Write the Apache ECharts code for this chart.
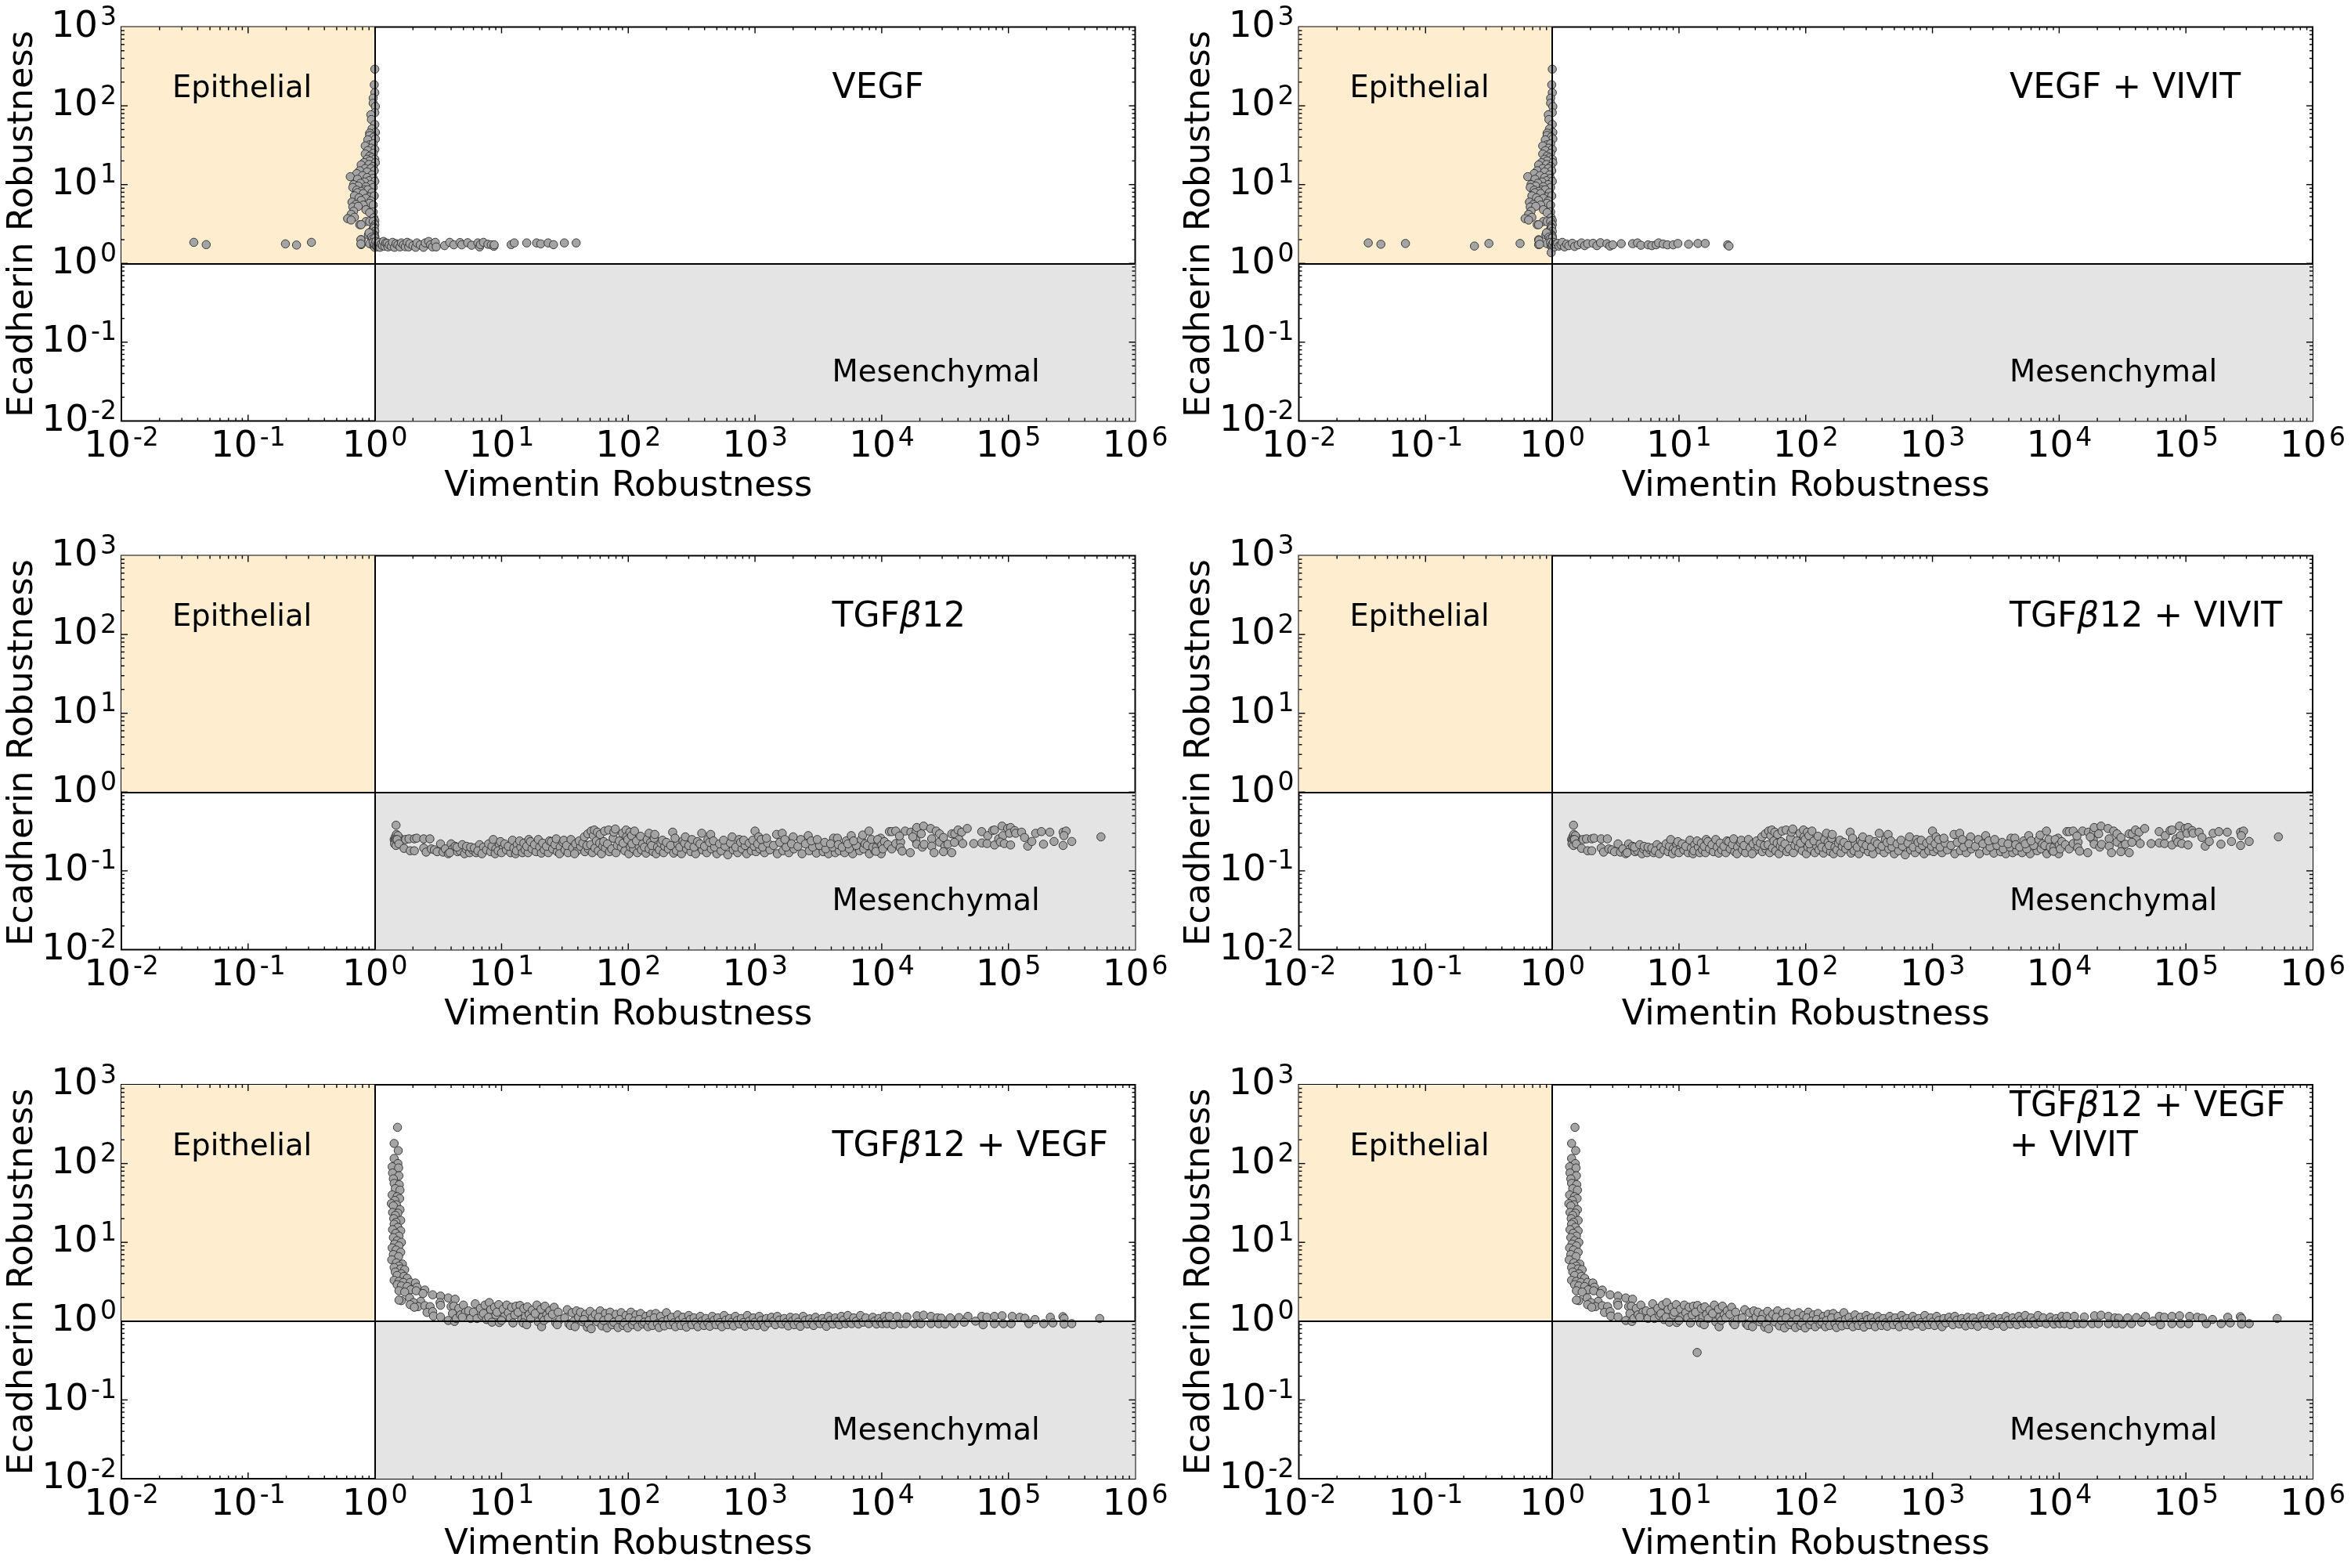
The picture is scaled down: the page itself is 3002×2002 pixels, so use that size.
<!DOCTYPE html>
<html><head><meta charset="utf-8">
<style>html,body{margin:0;padding:0;background:#fff}#c{width:3002px;height:2002px}</style>
<script src="https://cdn.jsdelivr.net/npm/echarts@6/dist/echarts.min.js"></script>
</head><body><div id="c"></div>
<script>
// ---------- data ----------
const xTickExponents = [-2,-1,0,1,2,3,4,5,6];
const yTickExponents = [-2,-1,0,1,2,3];
const minorMantissas = [2,3,4,5,6,7,8,9];
const titles = ['VEGF','VEGF + VIVIT','TGF{b|β}12','TGF{b|β}12 + VIVIT','TGF{b|β}12 + VEGF','TGF{b|β}12 + VEGF\n+ VIVIT'];
const epithelialAt = [0.0252,162];
const mesenchymalAt = [4060,0.0395];
const titleAt = [4060,162];
const twoLineTitleAt = [4060,292];

const vegfColumn = [[1,292],[.99,185],[1,147],[.97,125],[.97,108],[1.01,98],[1,82],[.93,77],[.94,67],[1,58],[.95,51],[1.01,46],[.91,45],[.91,42],[.98,40],[1.01,38],[.88,37],[.91,32],[.97,33],[.84,31],[.94,29],[1,28],[.88,27],[.84,24.5],[.97,25],[.91,23],[.95,22],[.87,21],[1,21],[.91,20],[1.01,19],[.82,19],[.78,17.8],[.9,18],[.97,17],[.84,16],[.93,16],[.99,15],[.76,15],[.87,14.5],[.72,13.8],[.95,13.3],[.8,13],[.64,12.6],[.87,12.3],[.97,12],[.73,11.7],[.9,11.2],[1,11],[.83,10.8],[.77,10.4],[.68,10],[.93,10],[.74,9.6],[.67,9.2],[.97,9.2],[.85,9.4],[.83,8.6],[.88,8.6],[.72,8.5],[.78,8.2],[.73,7.9],[.95,7.9],[.81,7.7],[.69,7.2],[.91,7],[.99,7.2],[.75,6.8],[.85,6.7],[.78,6.3],[.93,6.2],[.66,6],[.91,5.8],[.71,5.6],[.81,5.5],[.97,5.5],[.67,5.2],[.74,5.3],[.85,4.8],[.68,4.6],[.97,4.5],[.91,4.4],[.65,4.2],[.69,3.85],[.61,3.7],[.65,3.55],[.98,3.8],[1,3.5],[.85,3.4],[.91,3.4],[.97,3.4],[.76,3.1],[.78,3.1],[1,3.1],[.98,2.9],[.95,2.6],[.97,2.7],[.99,2.8],[1,2.55],[.89,2.3],[.92,2.35],[.96,2.4],[.97,2.2],[.99,2.3],[1,2.2],[.9,2.45],[.94,2.15],[.99,2],[.96,2.05],[1,1.95],[1,2.1],[.78,2],[.78,1.73],[.91,1.78],[.98,1.66],[.99,1.75],[1,1.85],[1,1.6],[.97,1.85],[1.01,1.7],[1,1.75]];
const vegfBand = [[.0373,1.85],[.0467,1.73],[.197,1.77],[.241,1.71],[.316,1.85],[.776,2],[.776,1.77],[1.02,1.9],[1.03,1.65],[1.05,1.62],[1.06,1.8],[1.08,1.85],[1.1,1.6],[1.12,1.75],[1.15,1.68],[1.17,1.9],[1.2,1.65],[1.22,1.82],[1.25,1.8],[1.27,1.62],[1.3,1.72],[1.35,1.65],[1.38,1.85],[1.43,1.6],[1.47,1.78],[1.52,1.72],[1.58,1.62],[1.62,1.82],[1.68,1.72],[1.74,1.63],[1.8,1.85],[1.85,1.62],[1.89,1.78],[2,1.68],[2.1,1.6],[2.15,1.82],[2.28,1.72],[2.42,1.6],[2.5,1.82],[2.66,1.9],[2.75,1.72],[2.85,1.62],[3,1.85],[3.05,1.62],[3.55,1.68],[3.9,1.85],[4.2,1.72],[4.7,1.84],[4.85,1.72],[5.4,1.83],[5.8,1.7],[6.5,1.82],[6.7,1.62],[6.8,1.73],[7.2,1.85],[7.8,1.75],[8.3,1.72],[8.7,1.65],[8.75,1.72],[11.9,1.73],[12.6,1.82],[15.8,1.82],[18.9,1.82],[20.4,1.77],[23.3,1.82],[25.7,1.73],[31.3,1.82],[38.8,1.82]];
const vivitBand = [[.0353,1.82],[.0444,1.75],[.0694,1.79],[.243,1.66],[.316,1.79],[.557,1.79],[.784,1.96],[.795,1.75],[.98,1.37],[1.02,1.85],[1.04,1.62],[1.06,1.75],[1.1,1.8],[1.13,1.66],[1.17,1.72],[1.2,1.85],[1.25,1.62],[1.3,1.76],[1.35,1.68],[1.44,1.8],[1.5,1.64],[1.6,1.72],[1.7,1.82],[1.8,1.68],[1.9,1.78],[2.1,1.8],[2.25,1.68],[2.4,1.83],[2.7,1.78],[2.85,1.66],[3,1.72],[3.5,1.78],[4.3,1.78],[4.7,1.82],[5,1.7],[5.7,1.72],[6.1,1.68],[6.6,1.72],[6.9,1.82],[7.5,1.76],[8.1,1.72],[9,1.72],[9.8,1.79],[11.9,1.75],[14.1,1.79],[16.1,1.79],[24.2,1.72],[24.8,1.66]];

const tgfPoints = [[1.47,.38],[1.42,.25],[1.45,.27],[1.46,.23],[1.48,.26],[1.5,.24],[1.5,.27],[1.52,.22],[1.44,.24],[1.43,.22],[1.47,.21],[1.55,.25],[1.6,.255],[1.48,.29],[1.52,.28],[1.47,.25],[1.5,.25],[1.55,.22],[1.7,.193],[1.75,.25],[1.86,.255],[1.9,.18],[2.05,.255],[2.05,.18],[2.14,.26],[2.43,.255],[2.72,.255],[2.43,.195],[2.54,.173],[2.79,.19],[2.95,.185],[3.1,.175],[3.3,.22],[3.45,.173],[3.6,.19],[3.8,.165],
[4,.22],[4.1,.19],[3.9,.17],[4.3,.205],[4.5,.175],[4.7,.18],[4.45,.2],[5.1,.165],[5.25,.19],[4.9,.215],[5.6,.17],[5.3,.205],[5.9,.185],[5.7,.2],[6.3,.17],[6.1,.195],[6.7,.215],[6.5,.18],[7.2,.2],[7,.165],[7.6,.185],[7.9,.22],[8.2,.175],[8.4,.205],[8.6,.25],[9,.19],[8.9,.165],[9.6,.215],[9.4,.18],[10.3,.2],[10,.17],[9.8,.235],[10.9,.185],[10.6,.22],[11.8,.17],[11.3,.205],[12.5,.195],[12.2,.245],[12.9,.165],[13.3,.215],[13.1,.18],[14.2,.2],[13.9,.24],[14.6,.17],[15.3,.185],[15,.225],[16.2,.17],[15.8,.205],[16.4,.25],[17.4,.19],[16.9,.235],[18.7,.175],[18.2,.215],[20,.2],[19.5,.25],[20.6,.168],[21.7,.185],[21.1,.225],[23.4,.17],[22.6,.205],[23.9,.24],[25.3,.19],[24.7,.235],[27.5,.175],[26.4,.215],[27,.255],[29,.2],[28.7,.165],[31.6,.185],[30.5,.23],[31,.245],[33.5,.17],[32.6,.21],[36.4,.195],[35.3,.25],[39.5,.18],[38.4,.22],[37.7,.165],[42,.205],[41,.24],[45.5,.175],[43.8,.225],[45,.27],[48.5,.19],[47.2,.21],[48,.295],[52,.17],[50.5,.215],[51,.32],[53,.28],[54.6,.195],[56,.24],[54,.33],[58,.18],[59.5,.225],[57,.31],[61.5,.165],[63,.205],[60,.29],[66,.195],[64,.235],[65,.32],[71,.175],[68.5,.22],[70,.33],[74,.19],[76,.26],[77,.31],[80,.17],[82,.21],[79,.34],[88,.2],[85,.24],[90,.3],[94,.18],[91,.225],[96,.33],[97,.27],[101,.165],[104,.2],[99,.25],[103,.31],[110,.19],[107,.22],[106,.28],[112,.32],
[118,.17],[122,.205],[116,.24],[127,.185],[130,.22],[125,.275],[138,.168],[134,.2],[141,.25],[146,.19],[150,.23],[146,.3],[157,.175],[153,.21],[160,.26],[166,.165],[170,.2],[162,.29],[176,.185],[181,.225],[190,.17],[194,.205],[186,.245],[207,.19],[200,.23],[228,.168],[216,.21],[224,.31],[240,.18],[246,.22],[234,.26],[263,.165],[255,.2],[270,.24],[288,.19],[278,.225],[282,.27],[312,.175],[300,.21],[318,.25],[340,.165],[330,.2],[352,.235],[384,.185],[368,.22],[380,.3],[416,.17],[400,.205],[425,.25],[452,.19],[438,.23],[447,.29],[500,.165],[480,.2],[470,.24],[540,.18],[525,.22],[610,.16],[580,.205],[565,.245],[672,.185],[640,.225],[660,.27],[730,.17],[705,.2],[750,.25],[790,.19],[770,.23],[860,.165],[835,.21],[815,.245],[935,.18],[900,.225],[1020,.175],[985,.205],[1000,.32],[960,.245],[1090,.19],[1070,.27],[1050,.22],[1190,.17],[1150,.2],[1120,.25],[1310,.185],[1260,.225],[1230,.26],[1500,.165],[1400,.21],[1480,.29],[1660,.18],[1570,.23],[1640,.3],[1850,.17],[1760,.2],[1720,.25],[2030,.19],[2000,.27],[1940,.22],[2350,.165],[2180,.205],[2300,.25],[2680,.18],[2500,.22],[2630,.28],[3050,.168],[2850,.2],[2780,.24],[3450,.175],[3230,.21],[3100,.25],[3800,.165],[3620,.19],[3550,.23],[4300,.17],[4100,.2],[4170,.26],[3950,.22],[4620,.18],[4470,.26],[4540,.215],[5100,.17],[4880,.2],[5250,.24],[5900,.165],[5550,.19],[5750,.28],[5400,.22],[6700,.18],[6300,.21],[6000,.24],[6900,.25],[7200,.19],[7080,.285],[7400,.22],[8000,.165],[7940,.32],[7700,.21],[8800,.18],[8300,.25],[8500,.2],[9900,.165],[9800,.26],[9100,.2],[9500,.235],
[9300,.25],[9000,.177],[10000,.213],[10500,.235],[10200,.19],[11200,.215],[12000,.19],[12900,.222],[14100,.232],[14000,.197],[14500,.178],[16800,.17],[11500,.315],[12000,.315],[12900,.32],[15300,.32],[13800,.277],[17000,.31],[18700,.315],[18900,.355],[21400,.37],[24300,.345],[26900,.32],[28600,.295],[20500,.295],[18600,.245],[17600,.27],[18900,.218],[20900,.2],[21600,.217],[24800,.255],[24800,.206],[25900,.17],[28600,.232],[30700,.265],[31500,.206],[30700,.175],[33300,.218],[35700,.295],[37700,.295],[40000,.33],[42700,.31],[40700,.25],[37500,.23],[35700,.17],[43600,.222],[47300,.345],[53200,.222],[61500,.315],[61700,.226],[67800,.222],[68700,.28],[75000,.325],[77600,.33],[77600,.213],[83700,.255],[89000,.37],[90500,.28],[86300,.232],[92700,.222],[98600,.345],[104000,.355],[104000,.213],[102000,.3],[112000,.325],[114000,.3],[127000,.31],[134000,.265],[142000,.206],[153000,.236],[164000,.3],[182000,.315],[189000,.218],[212000,.31],[229000,.236],[270000,.31],[285000,.32],[274000,.28],[270000,.21],[316000,.236],[537000,.27]];

const comboPoints = [[1.51,288],[1.42,180],[1.53,146],[1.42,116],[1.52,100],[1.37,91],[1.54,88],[1.38,76],[1.55,70],[1.4,64],[1.42,56],[1.56,54],[1.45,48],[1.58,46],[1.37,40],[1.5,38],[1.57,36],[1.44,34],[1.35,31],[1.48,30],[1.4,29],[1.58,26],[1.38,24],[1.52,23.5],[1.45,22],[1.41,20],[1.6,19],[1.47,18],[1.42,17],[1.52,15.5],[1.38,14.5],[1.6,14],[1.46,13],[1.55,12],[1.4,11.5],[1.5,10.5],[1.62,10],[1.43,9.5],[1.55,9],[1.37,8.5],[1.47,8],[1.6,7.5],[1.4,7],[1.54,6.6],[1.36,6],[1.48,5.5],[1.65,5.3],[1.55,5],[1.42,4.8],[1.6,4.6],[1.72,4.5],[1.45,4.2],[1.62,4],[1.5,3.8],[1.7,3.7],[1.8,3.5],[1.42,3.3],[1.55,3.2],[1.68,3.1],[1.9,3.1],[2.09,3.05],[1.5,2.9],[1.62,2.8],[1.8,2.75],[2.15,2.7],[1.55,2.43],[1.92,2.5],[2.12,2.43],[2.48,2.48],[2.4,2.24],[1.72,2.34],[2.86,2.16],[3.3,2.08],[3.8,1.97],[4.3,1.9],[1.88,1.97],[1.62,1.82],[1.55,1.85],[2.3,1.78],[2.02,1.72],[1.9,1.62],[2.2,1.53],[2.05,1.5],[2.48,1.57],[2.73,1.53],[3.27,1.72],[3.3,1.59],[2.58,1.29],[2.86,1.32],[2.9,1.16],[3.3,1.13],[3.8,1.02],[4.25,.99],[4,1.53],
[4.2,1.55],[4.1,1.25],[4.4,1.08],[4.6,1.45],[4.75,1.2],[5,1.6],[5.2,1.3],[4.9,1.12],[5.5,1.35],[5.7,1.08],[6.2,1.66],[6,1.3],[6.4,1.08],[6.8,1.45],[7,1.18],[7.4,1.6],[7.2,1.25],[7.6,1.05],[8,1.72],[8.2,1.4],[7.9,1.12],[8.4,.97],[8.8,1.5],[9,1.2],[9.5,1.62],[9.2,1.3],[9.6,.96],[10.3,1.42],[10.6,1.15],[10,1.02],[11,1.6],[11.3,1.28],[12,1.5],[11.7,1.1],[12.3,.95],[13,1.55],[12.7,1.2],[14,1.58],[13.5,1.3],[14.4,1.05],[15,1.45],[15.4,1.12],[14.8,.95],[16,1.52],[16.5,1.22],[15.8,.9],[17.5,1.38],[17,1.08],[19,1.6],[18.4,1.25],[19.5,.98],[20.5,1.42],[21,1.12],[20.7,.85],[22,1.55],[22.7,1.2],[21.6,1.02],[24,1.35],[23.4,1.1],[26,1.5],[25.2,1.22],[26.8,.95],[28,1.3],[28.9,1.05],[27.5,.9],[33,1.4],[31.5,1.1],[34,.92],[36,1.28],[37.2,1],[35,.88],[39,1.35],[40.5,1.12],[38,.85],[42,1.3],[43.5,.98],[46,1.22],[44.5,1.05],[47.5,.84],[50,1.33],[52,1.1],[48.7,.92],[51,.8],[55,1.22],[57,.98],[60,1.35],[58.5,1.12],[62,.87],[66,1.25],[64,1.02],[68,.82],[72,1.3],[70,1.1],[74.5,.9],[80,1.22],[77,.97],[83,.83],[88,1.28],[85,1.05],[91,.88],[96,1.18],[93,.95],[99,.82],[105,1.3],[102,1.1],[108,.9],[115,1.2],[111,1],[119,.85],[125,1.25],[122,1.05],[130,.92],[138,1.15],[134,.97],[143,.85],[150,1.22],[146,1.02],[155,.88],[165,1.25],[160,1.1],[170,.93],[175,.83],[180,1.15],[186,.98],[193,.87],[200,1.28],[206,1.05],[213,.9],[220,1.12],[228,.95],[236,.85],[245,1.2],[252,1.02],[260,.88],[270,1.12],[279,.96],[288,.84],[300,1.18],[308,1.05],[318,.9],[330,1.1],[342,.97],[354,.85],[370,1.15],[382,1],[396,.88],[410,1.08],[425,.95],[440,.86],[460,1.15],[475,1.02],[492,.9],[510,1.1],[528,.96],[548,.85],[570,1.18],[590,1.03],[610,.9],[630,1.08],[655,.97],[678,.87],[700,1.15],[725,1.02],[752,.92],[780,1.08],[810,.96],[838,.86],[870,1.18],[900,1],[935,.9],[970,1.1],[1000,.97],[1040,.88],[1080,1.15],[1120,1.02],[1160,.92],[1190,.85],[1230,1.08],[1280,.95],[1350,1.12],[1400,1],[1450,.9],[1500,1.15],[1560,1.03],[1630,.92],[1700,1.08],[1760,.96],[1830,.87],[1900,1.12],[1970,1],[2040,.9],[2100,1.1],[2190,.97],[2280,.86],[2400,1.15],[2490,1.02],[2590,.92],[2700,1.07],[2800,.96],[2900,.88],[3000,1.12],[3130,1],[3260,.93],[3400,1.08],[3520,.97],[3660,.86],[3800,1.15],[3950,1.02],[4120,.92],[4300,1.1],[4470,.98],[4640,.9],[4800,1.15],[5000,1.03],[5200,.93],[5400,1.18],[5600,.97],[5800,.93],[6000,1.1],[6300,1],[6550,.92],[6800,1.18],[7150,.97],[7500,1.1],[7900,.93],[8500,1.12],[8800,1],[9100,.92],[9500,1.08],[9800,.98],[10100,.93],[10500,1.15],[10800,1],[11000,.93],
[11500,1.15],[13200,1.15],[15800,1.13],[19000,1.17],[21400,1.19],[24500,1.15],[27500,1.1],[29500,1.09],[34700,1.1],[40700,1.11],[47900,1.15],[61700,1.15],[67600,1.12],[77600,1.15],[89100,1.17],[107000,1.15],[123000,1.12],[135000,1.09],[162000,1.05],[214000,1.12],[269000,1.14],[275000,1.08],[525000,1.08],
[12300,.9],[14100,.93],[15500,.93],[18200,.93],[20400,.93],[24500,.93],[28200,.93],[31600,.92],[37200,.93],[44700,.97],[55000,1],[63100,.9],[77600,.93],[91200,.93],[105000,.93],[145000,.93],[190000,.93],[224000,.95],[275000,.92],[316000,.93]];
const comboOutlier = [[13.9,.4]];

// ---------- panels ----------
const panelPoints = [
  vegfColumn.concat(vegfBand),
  vegfColumn.concat(vivitBand),
  tgfPoints,
  tgfPoints,
  comboPoints,
  comboPoints.concat(comboOutlier)
];

const XMIN=0.01, XMAX=1e6, YMIN=0.01, YMAX=1000;
const FONT='"DejaVu Sans"';
const lefts=[155,1658.5], tops=[34.5,709.5,1385];
const W=1294.5, H=503;

function sci(v){ return '{b|10}{s|'+Math.round(Math.log10(v))+'}'; }
const labelRich={
  b:{fontFamily:FONT,fontSize:47,color:'#000',lineHeight:47,verticalAlign:'bottom'},
  s:{fontFamily:FONT,fontSize:33,color:'#000',lineHeight:33,verticalAlign:'bottom',padding:[0,0,18,3]}
};
function tickData(){
  const d=[];
  const side=(v,a,b,major)=>{ d.push([a===null?v:a, b===null?v:b, major?8:4]); };
  const addX=(v,m)=>{ side(v,null,YMIN,m); side(v,null,YMAX,m); };
  const addY=(v,m)=>{ side(v,XMIN,null,m); side(v,XMAX,null,m); };
  xTickExponents.forEach((e,i)=>{ const p=Math.pow(10,e);
    if(i>0&&i<xTickExponents.length-1) addX(p,true);
    if(i<xTickExponents.length-1) minorMantissas.forEach(m=>addX(m*p,false)); });
  yTickExponents.forEach((e,i)=>{ const p=Math.pow(10,e);
    if(i>0&&i<yTickExponents.length-1) addY(p,true);
    if(i<yTickExponents.length-1) minorMantissas.forEach(m=>addY(m*p,false)); });
  return d;
}
const ticks=tickData();
function renderTick(params,api){
  const x=api.value(0), y=api.value(1), len=api.value(2);
  const p=api.coord([x,y]);
  let dx=0,dy=0;
  if(y===YMIN) dy=-1; else if(y===YMAX) dy=1; else if(x===XMIN) dx=1; else dx=-1;
  return {type:'line',shape:{x1:p[0],y1:p[1],x2:p[0]+dx*len,y2:p[1]+dy*len},style:{stroke:'#000',lineWidth:1.4}};
}

const grids=[],xAxes=[],yAxes=[],series=[];
panelPoints.forEach((pts,i)=>{
  const col=i%2,row=Math.floor(i/2);
  grids.push({left:lefts[col],top:tops[row],width:W,height:H,show:true,borderColor:'#000',borderWidth:2,backgroundColor:'#fff',containLabel:false});
  xAxes.push({gridIndex:i,type:'log',logBase:10,min:XMIN,max:XMAX,splitNumber:8,
    name:'Vimentin Robustness',nameLocation:'middle',nameGap:84,nameTextStyle:{fontFamily:FONT,fontSize:44.7,color:'#000',verticalAlign:'middle'},
    axisLine:{show:false},axisTick:{show:false},splitLine:{show:false},minorTick:{show:false},
    axisLabel:{show:true,margin:10,hideOverlap:false,showMinLabel:true,showMaxLabel:true,formatter:sci,rich:labelRich}});
  yAxes.push({gridIndex:i,type:'log',logBase:10,min:YMIN,max:YMAX,splitNumber:5,
    name:'Ecadherin Robustness',nameLocation:'middle',nameGap:126,nameMoveOverlap:false,nameRotate:90,nameTextStyle:{fontFamily:FONT,fontSize:44.7,color:'#000',verticalAlign:'middle'},
    axisLine:{show:false},axisTick:{show:false},splitLine:{show:false},minorTick:{show:false},
    axisLabel:{show:true,margin:6,hideOverlap:false,showMinLabel:true,showMaxLabel:true,formatter:sci,rich:labelRich}});
  const title=titles[i];
  const lblRich={b:{fontFamily:FONT,fontStyle:'italic',fontSize:44,color:'#000',lineHeight:51},t:{fontFamily:FONT,fontSize:44,color:'#000',lineHeight:51}};
  const styled=title.split('\n').map(l=>l.split(/(\{b\|β\})/).map(s=>s.startsWith('{b|')?s:(s?'{t|'+s+'}':'')).join('')).join('\n');
  series.push({type:'scatter',xAxisIndex:i,yAxisIndex:i,z:1,silent:true,animation:false,symbolSize:0,clip:false,
    itemStyle:{opacity:1},
    data:[
      {value:epithelialAt,label:{formatter:'Epithelial',fontSize:38.5}},
      {value:mesenchymalAt,label:{formatter:'Mesenchymal',fontSize:38.5}},
      {value:title.includes('\n')?twoLineTitleAt:titleAt,label:{formatter:styled,rich:lblRich,fontSize:44,lineHeight:51}}
    ],
    label:{show:true,position:'right',distance:0,color:'#000',fontFamily:FONT},
    markArea:{silent:true,animation:false,label:{show:false},data:[
      [{coord:[XMIN,1],itemStyle:{color:'#FEEDCE',opacity:1}},{coord:[1,YMAX]}],
      [{coord:[1,YMIN],itemStyle:{color:'#E4E4E4',opacity:1}},{coord:[XMAX,1]}]
    ]},
    markLine:{silent:true,animation:false,symbol:'none',label:{show:false},lineStyle:{color:'#000',width:2,type:'solid',opacity:1},data:[
      [{coord:[1,YMIN]},{coord:[1,YMAX]}],
      [{coord:[XMIN,1]},{coord:[XMAX,1]}]
    ]}
  });
  series.push({type:'scatter',xAxisIndex:i,yAxisIndex:i,z:3,silent:true,animation:false,symbol:'circle',symbolSize:10.5,
    data:pts,clip:false,
    itemStyle:{color:'#A4A4A4',borderColor:'#383838',borderWidth:1,opacity:1}});
  series.push({type:'custom',xAxisIndex:i,yAxisIndex:i,z:4,silent:true,animation:false,clip:false,
    data:ticks,encode:{x:0,y:1},renderItem:renderTick});
});
const chart=echarts.init(document.getElementById('c'),null,{width:3002,height:2002,renderer:'canvas'});
chart.setOption({backgroundColor:'#fff',animation:false,textStyle:{fontFamily:FONT},grid:grids,xAxis:xAxes,yAxis:yAxes,series:series});
</script></body></html>
